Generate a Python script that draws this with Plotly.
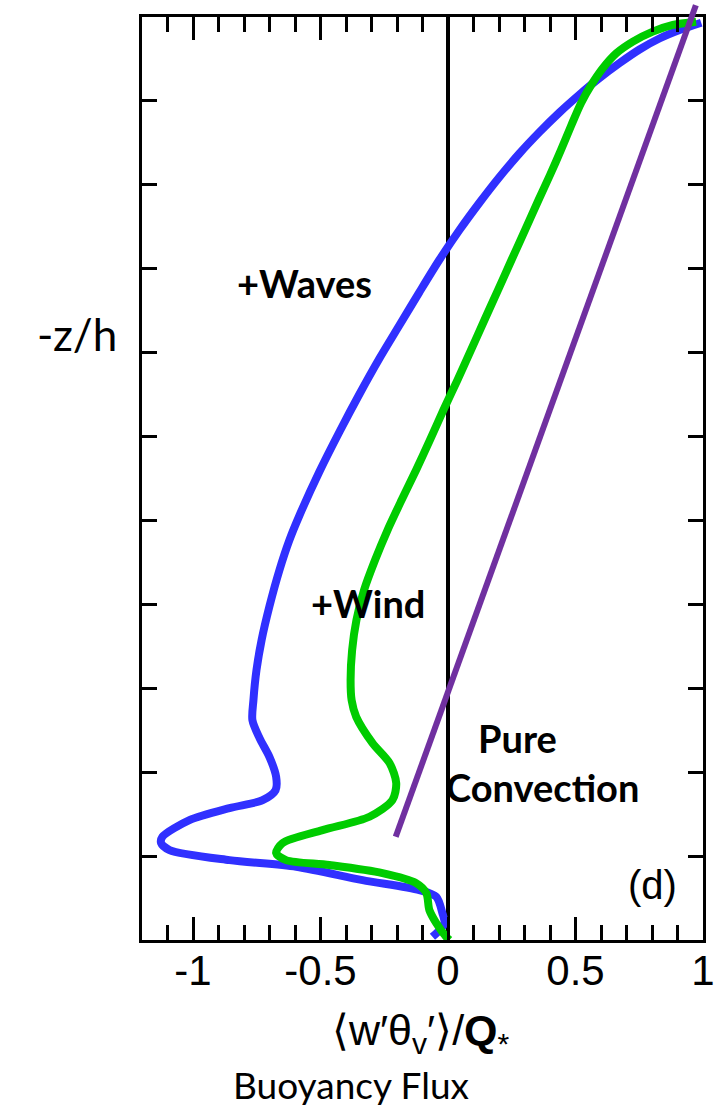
import plotly.graph_objects as go

# ---- data ----
waves_flux = [0.993, 0.908, 0.829, 0.751, 0.673, 0.594, 0.516, 0.437, 0.359, 0.280,
              0.202, 0.124, 0.045, -0.033, -0.112, -0.190, -0.269, -0.347, -0.425,
              -0.504, -0.582, -0.622, -0.661, -0.700, -0.731, -0.751, -0.763,
              -0.767, -0.739, -0.700, -0.674, -0.676, -0.727, -0.857, -1.014, -1.120,
              -1.125, -1.092, -0.857, -0.595, -0.335, -0.112, -0.046, -0.022, -0.014,
              -0.033, -0.061]
waves_depth = [0.0068, 0.0155, 0.0256, 0.0387, 0.0548, 0.0727, 0.0924, 0.1138, 0.1371,
               0.1627, 0.1907, 0.2211, 0.2539, 0.2890, 0.3278, 0.3671, 0.4070, 0.4493,
               0.4940, 0.5417, 0.5936, 0.6234, 0.6591, 0.7020, 0.7426, 0.7783, 0.8141,
               0.8379, 0.8594, 0.8820, 0.9055, 0.9213, 0.9333, 0.9428, 0.9571, 0.9770,
               0.9845, 0.9928, 1.0048, 1.0127, 1.0286, 1.0405, 1.0485, 1.0679, 1.0799,
               1.0882, 1.0962]

wind_flux = [0.973, 0.882, 0.803, 0.725, 0.660, 0.607, 0.562, 0.522, 0.484, 0.443,
             0.400, 0.355, 0.302, 0.249, 0.196, 0.143, 0.090, 0.037, -0.018, -0.071,
             -0.125, -0.182, -0.237, -0.286, -0.329, -0.359, -0.376, -0.382, -0.378,
             -0.360, -0.296, -0.229, -0.203, -0.218, -0.308, -0.492, -0.649, -0.674,
             -0.635, -0.465, -0.257, -0.125, -0.085, -0.073, -0.046, -0.007, 0.006]
wind_depth = [0.0056, 0.0095, 0.0175, 0.0294, 0.0433, 0.0611, 0.0810, 0.1025, 0.1287,
              0.1585, 0.1883, 0.2181, 0.2539, 0.2896, 0.3254, 0.3611, 0.3969, 0.4327,
              0.4684, 0.5042, 0.5399, 0.5757, 0.6114, 0.6472, 0.6829, 0.7187, 0.7545,
              0.7902, 0.8141, 0.8340, 0.8653, 0.8892, 0.9130, 0.9333, 0.9531, 0.9690,
              0.9845, 0.9964, 1.0048, 1.0107, 1.0203, 1.0322, 1.0441, 1.0644, 1.0799,
              1.0962, 1.1000]

pure_flux = [0.972, -0.205]
pure_depth = [-0.014, 0.977]

x_tickvals = [-1, -0.5, 0, 0.5, 1]
x_ticktext = ["-1", "-0.5", "0", "0.5", "1"]

# ---- layout constants ----
W, H = 715, 1107
ML, MR, MT, MB = 142, 12, 0, 167
PLOT_TOP = 17                      # pixel row of the top border
PLOT_H = H - MB - MT               # 940
XR = [-1.2, 1.0]
YR = [1.1, 0.0]
y_dom_top = (PLOT_H - PLOT_TOP) / PLOT_H
y2_top = YR[1] - PLOT_TOP * (YR[0] - YR[1]) / (PLOT_H - PLOT_TOP)

fig = go.Figure()
fig.add_trace(go.Scatter(x=waves_flux, y=waves_depth, mode="lines",
                         line=dict(color="#3030FF", width=8, shape="spline", smoothing=0.8),
                         showlegend=False, hoverinfo="skip"))
fig.add_trace(go.Scatter(x=wind_flux, y=wind_depth, mode="lines",
                         line=dict(color="#00CC00", width=8, shape="spline", smoothing=0.8),
                         showlegend=False, hoverinfo="skip"))
fig.add_trace(go.Scatter(x=pure_flux, y=pure_depth, mode="lines",
                         line=dict(color="#7030A0", width=6),
                         xaxis="x2", yaxis="y2",
                         showlegend=False, hoverinfo="skip"))

axis_common = dict(showline=True, linecolor="black", linewidth=3, mirror="ticks",
                   showgrid=False, ticks="inside", tickwidth=3, tickcolor="black")

fig.update_layout(
    width=W, height=H,
    margin=dict(l=ML, r=MR, t=MT, b=MB, pad=0),
    paper_bgcolor="white", plot_bgcolor="rgba(0,0,0,0)",
    xaxis=dict(range=XR, domain=[0, 1], anchor="y",
               tickmode="array", tickvals=x_tickvals, ticktext=x_ticktext,
               ticklen=23, ticklabelstandoff=-8,
               minor=dict(dtick=0.1, tick0=0, ticks="inside", ticklen=15,
                          tickwidth=3, tickcolor="black", showgrid=False),
               zeroline=True, zerolinecolor="black", zerolinewidth=3.5,
               tickfont=dict(family="Liberation Sans", size=42, color="black"),
               **axis_common),
    yaxis=dict(range=YR, domain=[0, y_dom_top], anchor="x",
               tickmode="linear", tick0=0, dtick=0.1, ticklen=15,
               showticklabels=False, zeroline=False,
               **axis_common),
    xaxis2=dict(range=XR, domain=[0, 1], anchor="y2", visible=False),
    yaxis2=dict(range=[YR[0], y2_top], domain=[0, 1], anchor="x2", visible=False),
)

def px_x(px):
    return (px - ML) / (W - ML - MR)

def px_y(py):
    return 1 - (py - MT) / PLOT_H

ann = []
bold = dict(family="Lato", size=38, color="black")
ann.append(dict(text="<b>+Waves</b>", x=-0.561, y=0.317, xref="x", yref="y", font=bold))
ann.append(dict(text="<b>+Wind</b>", x=-0.314, y=0.698, xref="x", yref="y", font=bold))
ann.append(dict(text="<b>Pure</b>", x=0.271, y=0.859, xref="x", yref="y", font=bold))
ann.append(dict(text="<b>Convection</b>", x=0.369, y=0.918, xref="x", yref="y", font=bold))
ann.append(dict(text="(d)", x=0.80, y=1.035, xref="x", yref="y",
                font=dict(family="Liberation Sans", size=40, color="black")))
ann.append(dict(text="-z/h", x=px_x(77), y=px_y(334), xref="paper", yref="paper",
                font=dict(family="Lato", size=44, color="black")))
ann.append(dict(text="⟨w′θ<sub>v</sub>′⟩/<b>Q</b><sub>*</sub>", x=px_x(421), y=px_y(1033),
                xref="paper", yref="paper",
                font=dict(family="Liberation Sans", size=43, color="black")))
ann.append(dict(text="Buoyancy Flux", x=px_x(351), y=px_y(1084), xref="paper", yref="paper",
                font=dict(family="Lato", size=37, color="black")))
for a in ann:
    a.update(showarrow=False, xanchor="center", yanchor="middle")
fig.update_layout(annotations=ann)

fig.write_html("out.html")
